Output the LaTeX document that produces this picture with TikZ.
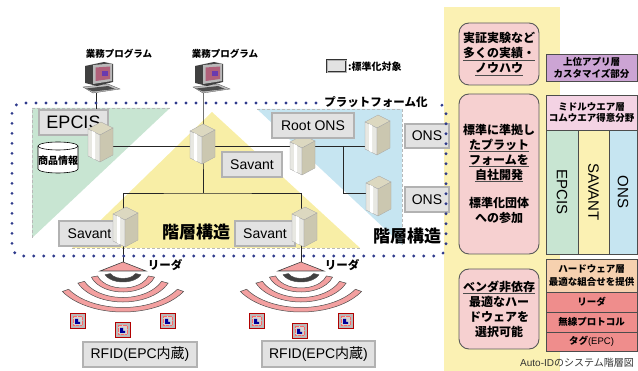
\documentclass[tikz,border=0pt]{standalone}
\usepackage{fontspec}
\setmainfont{Liberation Sans}
\newfontfamily\jp{Noto Sans CJK JP}
\newcommand\jpb{\jp\bfseries}
% underline drawn as a slightly heavier bar
\newcommand\ulined[1]{\leavevmode\setbox0=\hbox{#1}\rlap{\color{black!70}\rule[-2.8pt]{\wd0}{0.9pt}}\box0}

\definecolor{bandyellow}{HTML}{FBF1B3}
\definecolor{epcisgreen}{HTML}{C8E5D2}
\definecolor{savantyellow}{HTML}{F8EEA6}
\definecolor{onsblue}{HTML}{C6E5F1}
\definecolor{dotblue}{HTML}{2E3A8C}
\definecolor{boxgray}{HTML}{E2E2E2}
\definecolor{knowpink}{HTML}{F6D0D0}
\definecolor{apppurple}{HTML}{CCA4D4}
\definecolor{midpink}{HTML}{F4D3E4}
\definecolor{hwpeach}{HTML}{F6D1AF}
\definecolor{hwred}{HTML}{EF8D8C}
\definecolor{wavepink}{HTML}{F3A0A0}
\definecolor{srvtop}{HTML}{DCD8C0}
\definecolor{srvfront}{HTML}{E8E8E2}
\definecolor{srvside}{HTML}{CBC7B0}
\definecolor{screenred}{HTML}{B0607A}

\tikzset{
  stdbox/.style={draw=black!80, double=gray!60, double distance=1.1pt, fill=boxgray, inner sep=1pt, minimum height=25, font=\fontsize{14}{16}\selectfont},
  wire/.style={draw=black!85, line width=0.7pt},
  areaedge/.style={draw=gray!55, densely dashed, line width=0.4pt},
  platform/.style={draw=dotblue, line width=3.2pt, dash pattern=on 0pt off 10pt, line cap=round, rounded corners=10},
  knowbox/.style={draw=black!65, line width=0.9pt, rounded corners=10, fill=knowpink, minimum width=80, align=center, font=\jpb\fontsize{12}{15}\selectfont},
  layer/.style={draw=black!70, line width=0.8pt, inner sep=0.5pt, minimum width=91, align=center},
  wave/.style={fill=wavepink, draw=black!70, line width=0.5pt},
  % tower server, origin at its top left corner
  server/.pic={
    \filldraw[fill=srvtop, draw=gray!70, line width=0.3pt] (0,7) -- (13,0) -- (25,6) -- (12,13) -- cycle;
    \filldraw[fill=srvfront, draw=gray!70, line width=0.3pt] (0,7) -- (12,13) -- (12,40) -- (0,34) -- cycle;
    \fill[white] (4,9) -- (7,10.5) -- (7,37.5) -- (4,36) -- cycle;
    \filldraw[fill=srvside, draw=gray!70, line width=0.3pt] (12,13) -- (25,6) -- (25,33) -- (12,40) -- cycle;
  },
  % desktop computer, origin at its top left corner
  pc/.pic={
    \filldraw[fill=gray!50, draw=black!70, line width=0.3pt] (1,25) -- (26,22) -- (38,27) -- (11,31) -- cycle;
    \fill[black!70] (4,26.5) -- (26,24) -- (33,27) -- (11,29.5) -- cycle;
    \fill[black!75] (3,4) -- (22,0) -- (31,2) -- (31,20) -- (15,24) -- (3,21) -- cycle;
    \fill[gray!55] (11,3) -- (30,1.5) -- (30,19) -- (11,22) -- cycle;
    \fill[screenred] (13.5,5.5) -- (28,4.5) -- (28,17) -- (13.5,19) -- cycle;
    \fill[blue!40!screenred] (20,9) rectangle (26,14);
  },
  % rfid tag, origin at its top left corner
  tag/.pic={
    \filldraw[fill=gray!55, draw=red!70!black, line width=0.5pt] (0,0) rectangle (15,15);
    \filldraw[fill=gray!35, draw=red!60, line width=0.3pt, densely dotted] (3,3) rectangle (12,12);
    \fill[blue!60!black] (5,6) rectangle (8,11) (5,9) rectangle (10,11);
  },
  % reader with its radio waves, origin at the apex
  reader/.pic={
    \foreach \rx/\ry/\t/\w [count=\k] in {19/11/20/3.5, 33/21/17/4, 49/31/23/4.5, 70/41/30/4.5}{
      \pgfmathsetmacro\ix{\rx-1.6*\w}
      \pgfmathsetmacro\iy{\ry-\w}
      \pgfmathsetmacro\u{180-\t}
      \ifnum\k=1 \def\bandfill{black!75}\else\def\bandfill{wavepink}\fi
      \filldraw[wave, fill=\bandfill, shift={(0,9)}] (\t:{\rx} and {\ry}) arc[start angle=\t, end angle=\u, x radius=\rx, y radius=\ry] -- (\u:{\ix} and {\iy}) arc[start angle=\u, end angle=\t, x radius=\ix, y radius=\iy] -- cycle;
    }
    \filldraw[fill=wavepink, draw=black!75, line width=0.6pt] (0,0) -- (23,9) -- (-23,9) -- cycle;
  }
}

\begin{document}
\begin{tikzpicture}[x=1pt,y=-1pt]
  \useasboundingbox (0,0) rectangle (638,371);

  % coloured areas
  \fill[bandyellow] (444,7) rectangle (560,371);
  \fill[epcisgreen] (32,108) -- (170,108) -- (32,238) -- cycle;
  \draw[areaedge] (32,238) -- (32,108) -- (170,108);
  \fill[savantyellow] (212,112) -- (360,248) -- (72,248) -- cycle;
  \draw[areaedge] (72,248) -- (360,248);
  \fill[onsblue] (257,109) -- (402,109) -- (402,245) -- cycle;
  \draw[areaedge] (257,109) -- (402,109) -- (402,245);

  % connection points
  \coordinate (pc1) at (96,93);
  \coordinate (pc2) at (203,92);
  \coordinate (srvE) at (96,146);
  \coordinate (srvS) at (203,146);
  \coordinate (srvO1) at (378,146);
  \coordinate (jn) at (343,146);
  \coordinate (srvO2) at (378,193);
  \coordinate (hub) at (203,193);
  \coordinate (srvL) at (123,228);
  \coordinate (srvLR) at (301,228);
  \coordinate (rdrL) at (123,262);
  \coordinate (rdrR) at (301,262);

  % network lines
  \draw[wire] (pc1) -- (srvE) -- (srvO1);
  \draw[wire] (jn) |- (srvO2);
  \draw[wire] (pc2) -- (srvS) -- (hub);
  \draw[wire] (srvL) |- (hub) -| (srvLR);
  \draw[wire] (srvL) -- (rdrL);
  \draw[wire] (srvLR) -- (rdrR);

  \pic at (290,135) {server};

  % database
  \filldraw[fill=white, draw=black, line width=0.6pt] (38,146) -- (38,169) arc[start angle=180, end angle=0, x radius=20, y radius=4] -- (78,146) arc[start angle=0, end angle=-180, x radius=20, y radius=4] -- cycle;
  \draw[line width=0.6pt] (38,146) arc[start angle=180, end angle=0, x radius=20, y radius=4];
  \node[font=\jpb\fontsize{10}{12}\selectfont, inner sep=0] (goods) at (58,161) {商品情報};

  % standardised components
  \node[stdbox, minimum width=69, font=\fontsize{18}{20}\selectfont] (epcis) at (73.5,122.5) {EPCIS};
  \node[stdbox, minimum width=82] (root) at (313,125.5) {Root ONS};
  \node[stdbox, minimum width=60] (savS) at (252,164.5) {Savant};
  \node[stdbox, minimum width=61] (savL) at (89.5,233.5) {Savant};
  \node[stdbox, minimum width=60] (savR) at (265,233.5) {Savant};
  \node[stdbox, minimum width=44, minimum height=24] (ons1) at (427,136) {ONS};
  \node[stdbox, minimum width=44] (ons2) at (427,199.5) {ONS};

  \pic at (88,122) {server};
  \pic at (190,124) {server};
  \pic at (365,115) {server};
  \pic at (366,176) {server};
  \pic at (113,207) {server};
  \pic at (292,207) {server};

  % business applications
  \pic at (82,62) {pc};
  \pic at (192,62) {pc};
  \node[font=\jpb\fontsize{9.5}{11}\selectfont] (pc1label) at (119,54) {業務プログラム};
  \node[font=\jpb\fontsize{9.5}{11}\selectfont] (pc2label) at (225,54) {業務プログラム};

  % legend
  \node[stdbox, minimum width=19, minimum height=12, double distance=0.8pt] (legend) at (336.5,66) {};
  \node[anchor=west, inner sep=0, font=\jpb\fontsize{10}{12}\selectfont] (legendtext) at (348,67) {:標準化対象};

  % readers and tags
  \pic at (rdrL) {reader};
  \pic at (rdrR) {reader};
  \node[font=\jpb\fontsize{11.5}{13}\selectfont] (rdrLtext) at (165,265) {リーダ};
  \node[font=\jpb\fontsize{11.5}{13}\selectfont] (rdrRtext) at (342,265) {リーダ};
  \foreach \x/\y in {70/313, 115/322, 160/313, 249/313, 292/323, 338/313}
    \pic at (\x,\y) {tag};
  \node[stdbox, minimum width=114] (rfidL) at (140,354.5) {RFID(EPC{\jp 内蔵})};
  \node[stdbox, minimum width=113, minimum height=26] (rfidR) at (318.5,354) {RFID(EPC{\jp 内蔵})};

  \node[font=\jpb\fontsize{17}{19}\selectfont] (tierA) at (196,232) {階層構造};
  \node[font=\jpb\fontsize{17}{19}\selectfont] (tierB) at (407,236) {階層構造};

  % platform frame
  \draw[platform] (316,103) -- (12,103) -- (12,256) -- (446,256) -- (446,103) -- (437,103);
  \node[font=\jpb\fontsize{11.5}{13}\selectfont] (platform) at (376,102) {プラットフォーム化};

  % strengths
  \node[knowbox, minimum height=62] (know) at (499,54) {実証実験など\\\ulined{多くの実績・}\\\ulined{ノウハウ}};
  \node[knowbox, minimum height=160] (own) at (499,174) {標準に準拠し\\\ulined{たプラット}\\\ulined{フォームを}\\\ulined{自社開発}\\[13pt]標準化団体\\への参加};
  \node[knowbox, minimum height=80] (vendor) at (499,309) {\ulined{ベンダ非依存}\\最適なハー\\ドウェアを\\選択可能};

  % layer stack
  \node[layer, fill=apppurple, minimum height=27, font=\jpb\fontsize{9.5}{12}\selectfont] (app) at (591.5,67.5) {上位アプリ層\\カスタマイズ部分};
  \node[layer, fill=midpink, minimum height=35, font=\jpb\fontsize{9.5}{11}\selectfont] (mid) at (591.5,112.5) {ミドルウエア層\\コムウエア得意分野};
  \node[layer, fill=epcisgreen, rotate=-90, minimum width=124, minimum height=32, font=\fontsize{15}{17}\selectfont] (colE) at (562,192) {EPCIS};
  \node[layer, fill=bandyellow, rotate=-90, minimum width=124, minimum height=31, font=\fontsize{15}{17}\selectfont] (colS) at (593.5,192) {SAVANT};
  \node[layer, fill=onsblue, rotate=-90, minimum width=124, minimum height=28, font=\fontsize{15}{17}\selectfont] (colO) at (623,192) {ONS};
  \node[layer, fill=hwpeach, minimum height=33, font=\jpb\fontsize{9.5}{12.5}\selectfont] (hw) at (591.5,275.5) {ハードウェア層\\最適な組合せを提供};
  \node[layer, fill=hwred, minimum height=20, font=\jpb\fontsize{9.5}{12}\selectfont] (rowrdr) at (591.5,302) {リーダ};
  \node[layer, fill=hwred, minimum height=20, font=\jpb\fontsize{9.5}{12}\selectfont] (rowradio) at (591.5,322) {無線プロトコル};
  \node[layer, fill=hwred, minimum height=19, font=\jpb\fontsize{9.5}{12}\selectfont] (rowtag) at (591.5,341.5) {タグ{\normalfont(EPC)}};

  \node[anchor=west, inner sep=0, text=black!80, font=\fontsize{10}{12}\selectfont] (caption) at (520,363) {Auto-ID{\jp のシステム階層図}};
\end{tikzpicture}
\end{document}
